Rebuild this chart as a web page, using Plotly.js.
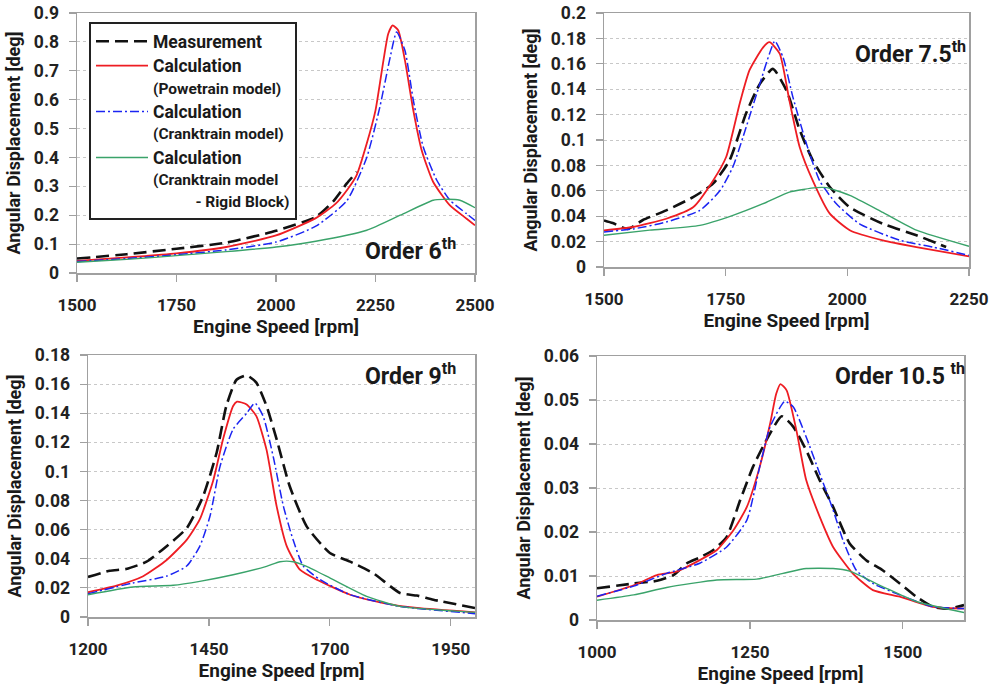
<!DOCTYPE html>
<html>
<head>
<meta charset="utf-8">
<script src="https://cdn.plot.ly/plotly-3.0.1.min.js"></script>
<style>
  html, body { margin: 0; padding: 0; background: #ffffff; }
  #chart { width: 994px; height: 686px; }
</style>
</head>
<body>
<div id="chart"></div>
<script>
// ---- Order 6 ----
const o6MeasRpm = [1500, 1625, 1750, 1875, 2000, 2100, 2145, 2178, 2203];
const o6Meas    = [0.050, 0.065, 0.084, 0.105, 0.146, 0.194, 0.250, 0.310, 0.350];
const o6PowRpm  = [1500, 1625, 1750, 1875, 2000, 2100, 2150, 2180, 2203, 2228, 2250, 2270, 2282, 2293, 2307, 2324, 2345, 2366, 2395, 2437, 2479, 2500];
const o6Pow     = [0.042, 0.054, 0.068, 0.090, 0.130, 0.190, 0.240, 0.290, 0.340, 0.448, 0.563, 0.736, 0.828, 0.857, 0.840, 0.736, 0.563, 0.425, 0.315, 0.234, 0.188, 0.165];
const o6CrkRpm  = [1500, 1625, 1750, 1875, 2000, 2100, 2178, 2228, 2261, 2287, 2303, 2324, 2345, 2370, 2404, 2437, 2479, 2500];
const o6Crk     = [0.040, 0.050, 0.063, 0.080, 0.107, 0.162, 0.250, 0.400, 0.575, 0.748, 0.834, 0.770, 0.598, 0.436, 0.321, 0.252, 0.205, 0.182];
const o6RigRpm  = [1500, 1625, 1750, 1875, 2000, 2100, 2228, 2312, 2395, 2420, 2462, 2500];
const o6Rig     = [0.037, 0.047, 0.060, 0.074, 0.090, 0.110, 0.148, 0.200, 0.252, 0.255, 0.252, 0.226];

// ---- Order 7.5 ----
const o75MeasRpm = [1500, 1518, 1549, 1580, 1628, 1683, 1724, 1758, 1792, 1820, 1847, 1875, 1902, 1929, 1964, 2005, 2073, 2142, 2203];
const o75Meas    = [0.0367, 0.0346, 0.0300, 0.0370, 0.0446, 0.0550, 0.0656, 0.0840, 0.1210, 0.1440, 0.1560, 0.1390, 0.1080, 0.0840, 0.0630, 0.0470, 0.0340, 0.0250, 0.0157];
const o75PowRpm  = [1500, 1560, 1628, 1683, 1724, 1751, 1779, 1799, 1827, 1840, 1861, 1881, 1902, 1929, 1964, 2005, 2073, 2142, 2250];
const o75Pow     = [0.0289, 0.0315, 0.0380, 0.0470, 0.0680, 0.0866, 0.1290, 0.1550, 0.1730, 0.1770, 0.1680, 0.1310, 0.0945, 0.0680, 0.0420, 0.0290, 0.0210, 0.0157, 0.0084];
const o75CrkRpm  = [1500, 1560, 1628, 1697, 1738, 1765, 1792, 1820, 1840, 1851, 1868, 1888, 1916, 1943, 1977, 2025, 2108, 2176, 2250];
const o75Crk     = [0.0276, 0.0300, 0.0354, 0.0446, 0.0600, 0.0790, 0.1100, 0.1440, 0.1680, 0.1780, 0.1650, 0.1340, 0.0970, 0.0680, 0.0500, 0.0340, 0.0210, 0.0157, 0.0092];
const o75RigRpm  = [1500, 1594, 1697, 1765, 1834, 1881, 1936, 1957, 2005, 2073, 2142, 2250];
const o75Rig     = [0.0250, 0.0290, 0.0328, 0.0407, 0.0510, 0.0590, 0.0625, 0.0625, 0.0564, 0.0430, 0.0290, 0.0163];

// ---- Order 9 ----
const o9MeasRpm = [1200, 1245, 1279, 1321, 1362, 1404, 1438, 1466, 1486, 1507, 1528, 1548, 1569, 1590, 1617, 1652, 1700, 1742, 1790, 1845, 1880, 1914, 2000];
const o9Meas    = [0.0275, 0.0318, 0.0330, 0.0380, 0.0485, 0.0610, 0.0830, 0.1130, 0.1450, 0.1630, 0.1660, 0.1610, 0.1450, 0.1220, 0.0898, 0.0623, 0.0440, 0.0380, 0.0300, 0.0165, 0.0147, 0.0119, 0.0062];
const o9PowRpm  = [1200, 1259, 1314, 1362, 1404, 1431, 1459, 1479, 1500, 1508, 1528, 1548, 1569, 1590, 1611, 1638, 1673, 1742, 1811, 1880, 2000];
const o9Pow     = [0.0170, 0.0215, 0.0280, 0.0390, 0.0530, 0.0670, 0.0940, 0.1220, 0.1450, 0.1480, 0.1460, 0.1380, 0.1150, 0.0760, 0.0485, 0.0325, 0.0256, 0.0153, 0.0096, 0.0062, 0.0032];
const o9CrkRpm  = [1200, 1293, 1362, 1404, 1431, 1452, 1473, 1500, 1528, 1545, 1562, 1583, 1604, 1624, 1645, 1680, 1742, 1845, 2000];
const o9Crk     = [0.0160, 0.0234, 0.0280, 0.0350, 0.0485, 0.0690, 0.1035, 0.1290, 0.1400, 0.1470, 0.1380, 0.1100, 0.0760, 0.0530, 0.0350, 0.0256, 0.0153, 0.0073, 0.0023];
const o9RigRpm  = [1200, 1293, 1376, 1431, 1500, 1569, 1597, 1624, 1652, 1707, 1776, 1845, 2000];
const o9Rig     = [0.0153, 0.0206, 0.0218, 0.0245, 0.0290, 0.0348, 0.0380, 0.0380, 0.0348, 0.0256, 0.0142, 0.0073, 0.0032];

// ---- Order 10.5 ----
const o105MeasRpm = [1000, 1060, 1098, 1125, 1147, 1168, 1190, 1212, 1234, 1255, 1277, 1302, 1321, 1342, 1364, 1386, 1413, 1440, 1467, 1495, 1522, 1549, 1576, 1600];
const o105Meas    = [0.0072, 0.0083, 0.0089, 0.0102, 0.0129, 0.0142, 0.0159, 0.0189, 0.0272, 0.0348, 0.0409, 0.0463, 0.0439, 0.0386, 0.0318, 0.0257, 0.0174, 0.0136, 0.0113, 0.0083, 0.0053, 0.0030, 0.0026, 0.0034];
const o105PowRpm  = [1000, 1060, 1098, 1130, 1168, 1196, 1223, 1245, 1266, 1283, 1293, 1300, 1310, 1326, 1342, 1364, 1386, 1418, 1451, 1495, 1549, 1600];
const o105Pow     = [0.0053, 0.0079, 0.0102, 0.0110, 0.0136, 0.0159, 0.0204, 0.0257, 0.0348, 0.0446, 0.0514, 0.0536, 0.0522, 0.0431, 0.0318, 0.0235, 0.0166, 0.0106, 0.0068, 0.0053, 0.0030, 0.0026];
const o105CrkRpm  = [1000, 1060, 1114, 1168, 1212, 1245, 1266, 1283, 1307, 1321, 1342, 1364, 1386, 1402, 1424, 1451, 1495, 1549, 1600];
const o105Crk     = [0.0054, 0.0077, 0.0106, 0.0129, 0.0166, 0.0227, 0.0348, 0.0439, 0.0497, 0.0484, 0.0416, 0.0333, 0.0250, 0.0182, 0.0113, 0.0083, 0.0057, 0.0030, 0.0026];
const o105RigRpm  = [1000, 1060, 1114, 1196, 1261, 1304, 1342, 1386, 1413, 1467, 1522, 1600];
const o105Rig     = [0.0045, 0.0057, 0.0074, 0.0091, 0.0093, 0.0106, 0.0117, 0.0117, 0.0111, 0.0076, 0.0042, 0.0017];

// ---- series names and titles ----
const MAIN = '<span style="font-size:17.5px">';
const SUB = '<span style="font-size:15.5px">';
const seriesNames = [
  MAIN + 'Measurement</span>',
  MAIN + 'Calculation</span><br>' + SUB + '(Powetrain model)</span>',
  MAIN + 'Calculation</span><br>' + SUB + '(Cranktrain model)</span>',
  MAIN + 'Calculation</span><br>' + SUB + '(Cranktrain model</span><br>' + SUB + '\u00a0\u00a0\u00a0\u00a0\u00a0\u00a0\u00a0\u00a0\u00a0\u00a0\u00a0- Rigid Block)</span>'
];
const orderLabels = ['Order 6<sup>th</sup>', 'Order 7.5<sup>th</sup>', 'Order 9<sup>th</sup>', 'Order 10.5 <sup>th</sup>'];
const xTitle = 'Engine Speed [rpm]';
const yTitle = 'Angular Displacement [deg]';

const FONT = 'Roboto, "Liberation Sans", Arial, sans-serif';

const styles = [
  { color: '#111111', width: 2.6, dash: '13px,6px' },
  { color: '#ee1d23', width: 1.8, dash: 'solid' },
  { color: '#1b24f2', width: 1.5, dash: '9px,3px,2px,3px' },
  { color: '#3aa36a', width: 1.4, dash: 'solid' }
];

const panels = [
  { series: [[o6MeasRpm, o6Meas], [o6PowRpm, o6Pow], [o6CrkRpm, o6Crk], [o6RigRpm, o6Rig]],
    xr: [1500, 2500], x0: 1500, dx: 250, yr: [0, 0.9], dy: 0.1,
    xd: [77, 475], yd: [13, 273] },
  { series: [[o75MeasRpm, o75Meas], [o75PowRpm, o75Pow], [o75CrkRpm, o75Crk], [o75RigRpm, o75Rig]],
    xr: [1500, 2250], x0: 1500, dx: 250, yr: [0, 0.2], dy: 0.02,
    xd: [604, 969], yd: [13, 267] },
  { series: [[o9MeasRpm, o9Meas], [o9PowRpm, o9Pow], [o9CrkRpm, o9Crk], [o9RigRpm, o9Rig]],
    xr: [1200, 2000], x0: 1200, dx: 250, yr: [0, 0.18], dy: 0.02,
    xd: [88, 475], yd: [355, 617] },
  { series: [[o105MeasRpm, o105Meas], [o105PowRpm, o105Pow], [o105CrkRpm, o105Crk], [o105RigRpm, o105Rig]],
    xr: [1000, 1600], x0: 1000, dx: 250, yr: [0, 0.06], dy: 0.01,
    xd: [597, 964], yd: [356, 620] }
];

const W = 994, H = 686;
const orderPos = [[363, 250], [853, 52], [363, 374], [833, 374]];

const traces = [];
const layout = {
  width: W, height: H,
  margin: { l: 0, r: 0, t: 0, b: 0 },
  paper_bgcolor: '#ffffff',
  plot_bgcolor: '#ffffff',
  font: { family: FONT, color: '#222222', size: 17, weight: 'bold' },
  showlegend: true,
  legend: {
    x: 89 / W, y: 1 - 22 / H, xanchor: 'left', yanchor: 'top',
    bgcolor: '#ffffff', bordercolor: '#222222', borderwidth: 2,
    font: { family: FONT, size: 16.5, color: '#1a1a1a', weight: 'bold' },
    valign: 'top', tracegroupgap: 0, itemwidth: 52
  },
  annotations: []
};

panels.forEach((p, i) => {
  const sfx = i === 0 ? '' : String(i + 1);
  const xa = 'x' + sfx, ya = 'y' + sfx;
  p.series.forEach((s, k) => {
    traces.push({
      type: 'scatter', mode: 'lines',
      x: s[0], y: s[1],
      xaxis: xa, yaxis: ya,
      name: seriesNames[k],
      showlegend: i === 0,
      line: { color: styles[k].color, width: styles[k].width, dash: styles[k].dash, shape: 'spline', smoothing: 0.55 },
      hoverinfo: 'x+y'
    });
  });

  layout['xaxis' + sfx] = {
    domain: [p.xd[0] / W, p.xd[1] / W],
    anchor: ya,
    range: p.xr, tick0: p.x0, dtick: p.dx,
    showline: true, mirror: true, linecolor: '#a0a0a0', linewidth: 1.5,
    ticks: 'outside', ticklen: 7, tickcolor: '#a0a0a0', tickwidth: 1.2,
    ticklabelstandoff: 9,
    showgrid: false, zeroline: false,
    tickfont: { family: FONT, size: 17, color: '#222222', weight: 'bold' },
    title: { text: xTitle, standoff: 6, font: { family: FONT, size: 19, color: '#1a1a1a', weight: 'bold' } },
    automargin: false
  };
  layout['yaxis' + sfx] = {
    domain: [1 - p.yd[1] / H, 1 - p.yd[0] / H],
    anchor: xa,
    range: p.yr, dtick: p.dy,
    showline: true, mirror: true, linecolor: '#a0a0a0', linewidth: 1.5,
    ticks: 'outside', ticklen: 7, tickcolor: '#a0a0a0', tickwidth: 1.2,
    ticklabelstandoff: 6,
    showgrid: true, gridcolor: '#c8c8c8', griddash: 'dot', gridwidth: 1,
    zeroline: false,
    tickfont: { family: FONT, size: 17.5, color: '#222222', weight: 'bold' },
    title: { text: yTitle, standoff: 8, font: { family: FONT, size: 18, color: '#1a1a1a', weight: 'bold' } },
    automargin: false
  };

  layout.annotations.push({
    xref: 'paper', yref: 'paper',
    x: orderPos[i][0] / W, y: 1 - orderPos[i][1] / H,
    xanchor: 'left', yanchor: 'middle',
    text: orderLabels[i], showarrow: false,
    font: { family: FONT, size: 23, color: '#1a1a1a', weight: 'bold' }
  });
});

Plotly.newPlot('chart', traces, layout, { displayModeBar: false, staticPlot: true });
</script>
</body>
</html>
